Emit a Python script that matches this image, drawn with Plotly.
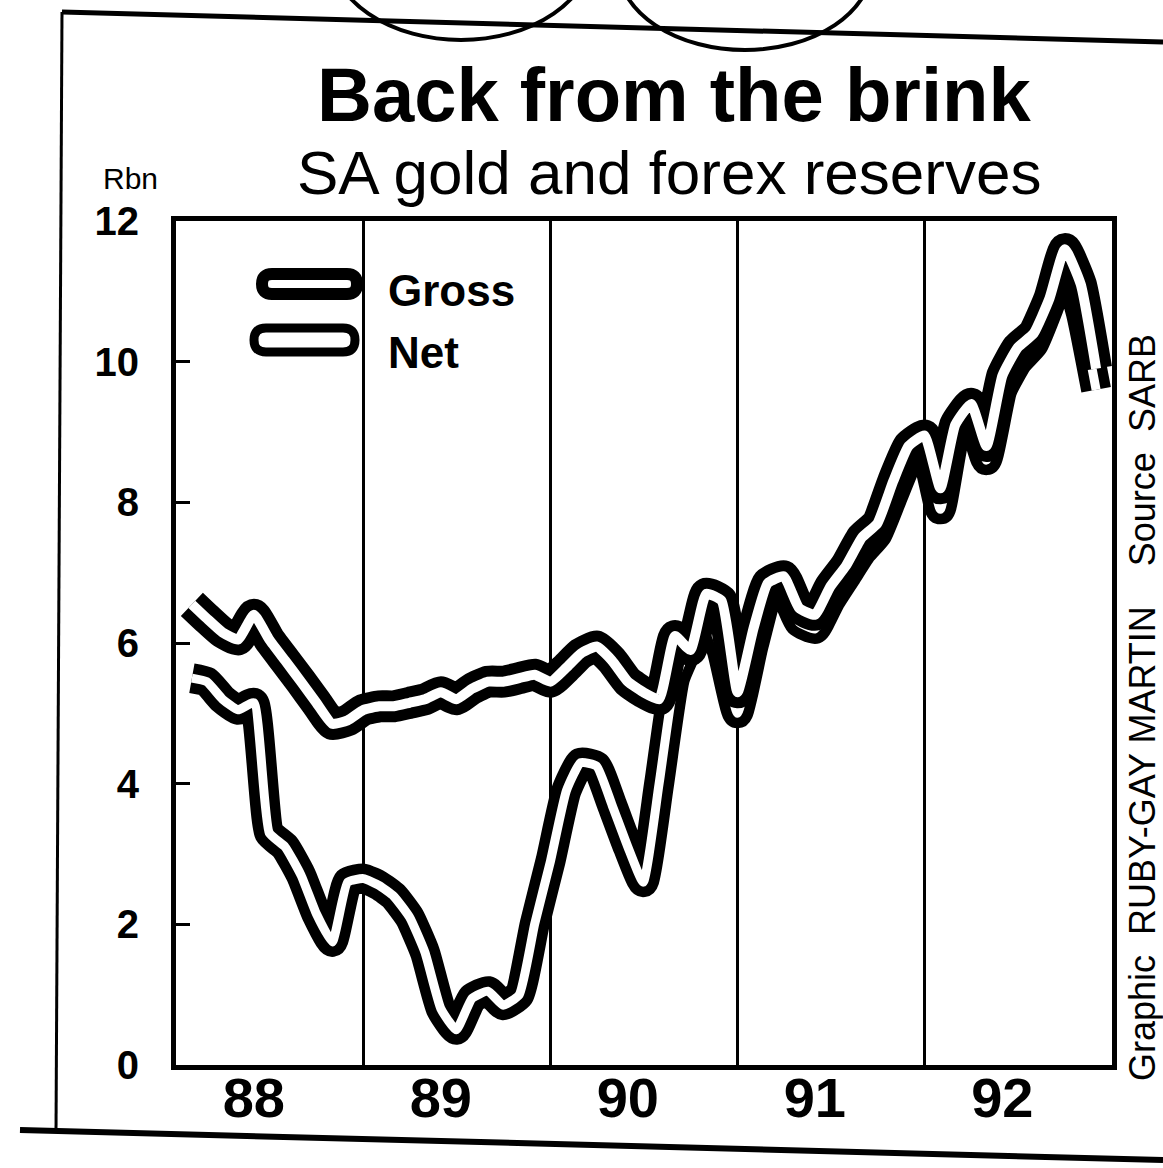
import plotly.graph_objects as go
import pandas as pd

# Monthly reserve readings, Rbn (first of each month, Feb 1988 - Dec 1992)
months = pd.date_range("1988-02-01", periods=59, freq="MS")

gross = [
    6.55, 6.35, 6.15, 6.05, 6.40, 6.05, 5.75, 5.45, 5.15, 4.85, 4.90,
    5.05, 5.10, 5.10, 5.15, 5.20, 5.30, 5.20, 5.35, 5.45, 5.45, 5.50, 5.55,
    5.45, 5.65, 5.85, 5.95, 5.75, 5.45, 5.30, 5.20, 6.10, 5.90, 6.70, 6.60,
    5.30, 6.20, 6.85, 6.95, 6.50, 6.40, 6.80, 7.10, 7.50, 7.70, 8.30, 8.80,
    8.95, 8.20, 9.10, 9.40, 8.80, 9.80, 10.20, 10.40, 10.90, 11.60, 11.10, 9.90,
]

net = [
    5.50, 5.45, 5.20, 5.05, 5.15, 3.30, 3.10, 2.70, 2.15, 1.75, 2.60,
    2.65, 2.55, 2.40, 2.10, 1.60, 0.80, 0.50, 0.95, 1.05, 0.85, 1.00, 2.00,
    2.90, 3.90, 4.30, 4.25, 3.70, 3.10, 2.60, 4.00, 5.50, 6.00, 6.40, 5.90,
    5.00, 5.95, 6.65, 6.75, 6.30, 6.20, 6.60, 6.95, 7.30, 7.55, 8.10, 8.60,
    8.75, 7.90, 8.95, 9.20, 8.60, 9.60, 10.00, 10.25, 10.80, 11.40, 10.70, 9.60,
]

year_labels = ["88", "89", "90", "91", "92"]
year_label_dates = ["1988-06-01", "1989-06-01", "1990-06-01", "1991-06-01", "1992-06-01"]
y_ticks = [0, 2, 4, 6, 8, 10, 12]

W, H = 1163, 1168
L, R, T, B = 176, 51, 221, 103
PW, PH = W - L - R, H - T - B

FONT = "Liberation Sans, Arial, Helvetica, sans-serif"


def px(x):
    return (x - L) / PW


def py(y):
    return (H - B - y) / PH


def pill(x0, x1, yc, h):
    r = h / 2
    a, b = x0 + r, x1 - r
    top, bot = yc - r, yc + r
    pts = [
        f"M{px(a)},{py(top)}", f"L{px(b)},{py(top)}",
        f"Q{px(x1)},{py(top)} {px(x1)},{py(yc)}",
        f"Q{px(x1)},{py(bot)} {px(b)},{py(bot)}",
        f"L{px(a)},{py(bot)}",
        f"Q{px(x0)},{py(bot)} {px(x0)},{py(yc)}",
        f"Q{px(x0)},{py(top)} {px(a)},{py(top)}", "Z",
    ]
    return " ".join(pts)


fig = go.Figure()

# outlined lines: a wide black stroke with a narrow white core on top
for values, name, outer, inner in [(net, "Net", 30, 9), (gross, "Gross", 32, 10)]:
    fig.add_trace(go.Scatter(x=months, y=values, mode="lines", showlegend=False,
                             hoverinfo="skip",
                             line=dict(color="black", width=outer,
                                       shape="spline", smoothing=0.45)))
    fig.add_trace(go.Scatter(x=months, y=values, mode="lines", name=name,
                             showlegend=False,
                             line=dict(color="white", width=inner,
                                       shape="spline", smoothing=0.45)))

shapes = [
    # legend swatches
    dict(type="path", xref="paper", yref="paper", path=pill(262, 357, 284, 20),
         line=dict(color="black", width=12), fillcolor="white"),
    dict(type="path", xref="paper", yref="paper", path=pill(254, 355, 340, 24),
         line=dict(color="black", width=9), fillcolor="white"),
    # outer box of the graphic
    dict(type="line", xref="paper", yref="paper", x0=px(62), y0=py(12), x1=px(1163), y1=py(42),
         line=dict(color="black", width=5)),
    dict(type="line", xref="paper", yref="paper", x0=px(62), y0=py(12), x1=px(56), y1=py(1132),
         line=dict(color="black", width=3)),
    dict(type="line", xref="paper", yref="paper", x0=px(20), y0=py(1130), x1=px(1163), y1=py(1160),
         line=dict(color="black", width=6)),
    # cartoon balloons spilling in from above
    dict(type="circle", xref="paper", yref="paper", x0=px(330), x1=px(592), y0=py(-140), y1=py(40),
         line=dict(color="black", width=4)),
    dict(type="circle", xref="paper", yref="paper", x0=px(618), x1=px(872), y0=py(-120), y1=py(50),
         line=dict(color="black", width=4)),
]

annotations = [
    dict(text="<b>Back from the brink</b>", x=px(674), y=py(94), xref="paper", yref="paper",
         xanchor="center", yanchor="middle", showarrow=False,
         font=dict(family=FONT, size=76, color="black")),
    dict(text="SA gold and forex reserves", x=px(669), y=py(172), xref="paper", yref="paper",
         xanchor="center", yanchor="middle", showarrow=False,
         font=dict(family=FONT, size=62, color="black")),
    dict(text="Rbn", x=px(130), y=py(178), xref="paper", yref="paper",
         xanchor="center", yanchor="middle", showarrow=False,
         font=dict(family=FONT, size=30, color="black")),
    dict(text="<b>Gross</b>", x=px(386), y=py(290), xref="paper", yref="paper",
         xanchor="left", yanchor="middle", showarrow=False,
         font=dict(family=FONT, size=44, color="black")),
    dict(text="<b>Net</b>", x=px(386), y=py(352), xref="paper", yref="paper",
         xanchor="left", yanchor="middle", showarrow=False,
         font=dict(family=FONT, size=44, color="black")),
    dict(text="Graphic  RUBY-GAY MARTIN    Source  SARB", x=px(1142), y=py(708),
         xref="paper", yref="paper", xanchor="center", yanchor="middle",
         textangle=-90, showarrow=False,
         font=dict(family=FONT, size=36, color="black")),
]

fig.update_layout(
    width=W, height=H,
    margin=dict(l=L, r=R, t=T, b=B, pad=0),
    paper_bgcolor="white", plot_bgcolor="white",
    showlegend=False,
    shapes=shapes,
    annotations=annotations,
    xaxis=dict(
        type="date", range=["1988-01-01", "1993-01-01"],
        tickmode="array", tickvals=year_label_dates, ticktext=year_labels,
        ticks="", showgrid=False, zeroline=False,
        showline=True, linecolor="black", linewidth=5, mirror=True,
        tickfont=dict(family=FONT, size=56, color="black", weight="bold"),
        ticklabelstandoff=-20,
        minor=dict(tick0="1988-01-01", dtick="M12", showgrid=True,
                   gridcolor="black", gridwidth=3, ticks=""),
    ),
    yaxis=dict(
        range=[0, 12], tickmode="array", tickvals=y_ticks,
        ticktext=[str(v) for v in y_ticks],
        ticks="inside", ticklen=14, tickwidth=3, tickcolor="black",
        showgrid=False, zeroline=False,
        showline=True, linecolor="black", linewidth=5, mirror=True,
        tickfont=dict(family=FONT, size=40, color="black", weight="bold"),
        ticklabelstandoff=24,
    ),
)

fig.write_html("out.html")
